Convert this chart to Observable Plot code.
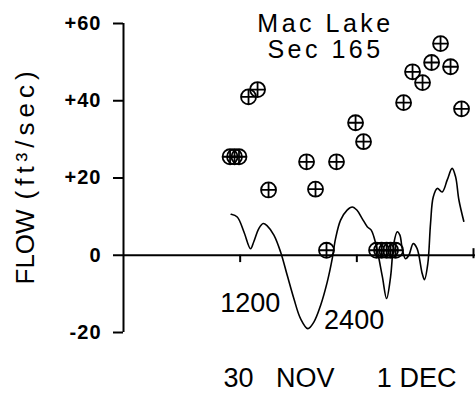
<!DOCTYPE html>
<html><head><meta charset="utf-8">
<script src="https://cdn.jsdelivr.net/npm/d3@7"></script>
<script src="https://cdn.jsdelivr.net/npm/@observablehq/plot@0.6"></script>
<style>body{margin:0;background:#fff}</style>
</head><body><div id="chart"></div>
<script>
// Continuous flow record (hours from 0000 on 30 Nov, ft^3/sec)
const recordHour = [11.08, 11.7, 12.38, 13.07, 13.4, 13.92, 14.37, 14.78, 15.47, 16.15, 16.84, 17.52, 18.21, 18.96, 19.58, 20.27, 20.96, 21.47, 21.81, 22.33, 23.0, 23.53, 24.0, 24.55, 25.07, 25.48, 25.75, 26.1, 26.63, 27.06, 27.47, 27.8, 28.16, 28.43, 28.67, 29.0, 29.35, 29.8, 30.2, 30.73, 30.96, 31.3, 31.58, 31.86, 32.27, 32.78, 33.3, 33.8, 34.16, 34.5, 35.0];
const recordFlow = [10.6, 9.9, 6.1, 1.7, 3.5, 6.9, 8.2, 7.6, 5.2, 0.9, -5.2, -11.2, -16.4, -19.0, -17.3, -13.0, -6.9, -0.9, 4.3, 9.1, 11.7, 12.5, 11.7, 9.5, 7.4, 6.5, 4.8, 1.3, -5.6, -11.2, -5.6, 3.0, 6.1, 5.2, 1.7, -0.9, 0.0, 3.0, 1.7, -4.8, -6.3, -2.2, 8.2, 15.1, 17.3, 16.4, 19.5, 22.5, 20.3, 14.3, 8.8];
// Measured samples (circled plus markers)
const sampleHour = [10.96, 11.42, 11.88, 12.86, 13.79, 14.92, 18.83, 19.75, 20.88, 21.91, 23.87, 24.69, 26.03, 26.54, 27.06, 27.47, 27.98, 28.81, 29.73, 30.76, 31.69, 32.61, 33.64, 34.77];
const sampleFlow = [25.5, 25.5, 25.5, 41.0, 42.9, 16.9, 24.2, 17.1, 1.3, 24.2, 34.3, 29.4, 1.3, 1.3, 1.3, 1.3, 1.3, 39.5, 47.5, 44.7, 49.9, 54.8, 48.8, 37.9];

const yTickValues = [-20, 0, 20, 40, 60];
const yTickLabels = ["-20", "0", "+20", "+40", "+60"];
const hourTicks = [12, 24, 36];
const hourTickLabels = ["1200", "2400"];
const dateLabels = ["30\u00a0\u00a0\u00a0NOV", "1 DEC"];
const dateLabelHour = [16.0, 30.15];
const titleText = "Mac Lake\nSec 165";
const yLabelParts = ["FLOW", "(ft³/sec)"];

const record = recordHour.map((h, i) => ({h, v: recordFlow[i]}));
const samples = sampleHour.map((h, i) => ({h, v: sampleFlow[i]}));

const circlePlus = {
  draw(ctx, size) {
    const r = Math.sqrt(size / Math.PI);
    ctx.moveTo(r, 0);
    ctx.arc(0, 0, r, 0, 2 * Math.PI);
    ctx.moveTo(-r, 0); ctx.lineTo(r, 0);
    ctx.moveTo(0, -r); ctx.lineTo(0, r);
  }
};

const font = "'Liberation Sans', Arial, sans-serif";

const plot = Plot.plot({
  width: 476, height: 396,
  marginLeft: 123, marginRight: 3, marginTop: 23, marginBottom: 64,
  x: {domain: [0, 36], axis: null},
  y: {domain: [-20, 60], axis: null},
  style: {fontFamily: font, color: "black", background: "white"},
  marks: [
    Plot.ruleY([0], {x1: 0, x2: 36.2, strokeWidth: 2}),
    Plot.ruleX([0], {y1: -20, y2: 60, strokeWidth: 2}),
    Plot.ruleY(yTickValues, {x1: -1.03, x2: 0, strokeWidth: 2}),
    Plot.text(yTickValues, {
      x: 0, y: d => d, text: d => yTickLabels[yTickValues.indexOf(d)],
      textAnchor: "end", dx: -22, fontSize: 20, fontWeight: "bold"
    }),
    Plot.ruleX(hourTicks.slice(0, 2), {y1: 0, y2: -1.9, strokeWidth: 2}),
    Plot.ruleX(hourTicks.slice(2), {y1: -0.9, y2: 1.7, strokeWidth: 2}),
    Plot.dot(samples, {x: "h", y: "v", symbol: circlePlus, r: 7.5, stroke: "black", strokeWidth: 1.8, fill: "none"}),
    Plot.line(record, {x: "h", y: "v", curve: "catmull-rom", strokeWidth: 1.6}),
    Plot.text([hourTickLabels[0]], {x: hourTicks[0], y: 0, dx: 10, dy: 57, lineAnchor: "bottom", fontSize: 27}),
    Plot.text([hourTickLabels[1]], {x: hourTicks[1], y: 0, dx: -2.7, dy: 74, lineAnchor: "bottom", fontSize: 27}),
    Plot.text(dateLabels, {x: (d, i) => dateLabelHour[i], frameAnchor: "bottom", dy: 54, lineAnchor: "bottom", fontSize: 27}),
    Plot.text([titleText], {frameAnchor: "top", dx: 27, dy: 34, lineAnchor: "bottom", lineHeight: 1.04, fontSize: 25}),
    Plot.text([yLabelParts[0]], {frameAnchor: "left", rotate: -90, textAnchor: "start", lineAnchor: "bottom", dx: -90, dy: 106.5, fontSize: 26}),
    Plot.text([yLabelParts[1]], {frameAnchor: "left", rotate: -90, textAnchor: "start", lineAnchor: "bottom", dx: -90, dy: 21.5, fontSize: 26})
  ]
});

const spacing = new Map([
  [titleText.replace("\n", ""), 3.5], [yLabelParts[1], 5],
  ...yTickLabels.map(t => [t, 1])
]);
d3.select(plot).selectAll("text").each(function() {
  const s = spacing.get(this.textContent);
  if (s != null) this.setAttribute("letter-spacing", s);
});

document.getElementById("chart").appendChild(plot);
</script>
</body></html>
